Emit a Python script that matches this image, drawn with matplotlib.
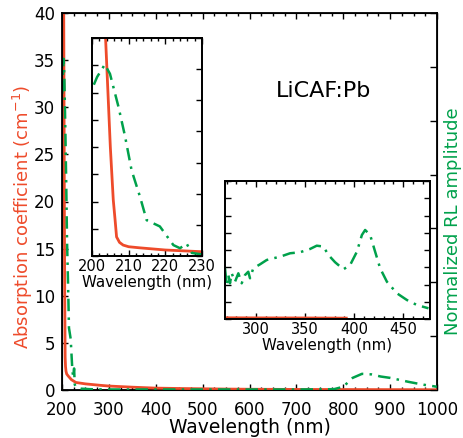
import matplotlib
matplotlib.use("Agg")
import matplotlib.pyplot as plt
from matplotlib.ticker import MultipleLocator, NullFormatter

plt.rcParams['font.family'] = ['DejaVu Sans']

RED = '#EE4B2B'
GREEN = '#00A14B'

# Absorption coefficient (cm^-1) vs wavelength (nm)
abs_wl = [200, 203.0, 203.7, 205.0, 205.8, 206.3, 206.7, 207.5, 208.5, 210, 213, 220, 229.5,
          250, 281, 300, 350, 400, 450, 500, 551, 600, 700, 800, 900, 1000]
abs_val = [48, 45, 40, 20, 10.3, 6.6, 3.5, 2.5, 2.0, 1.7, 1.5, 1.1, 0.8,
           0.65, 0.5, 0.42, 0.3, 0.2, 0.16, 0.13, 0.1, 0.08, 0.06, 0.05, 0.04, 0.03]

# Normalized RL amplitude vs wavelength (main and inset 1)
rl_wl = [200.5, 201.4, 203.5, 204.9, 207.2, 209, 210.8, 213.1, 214.9, 218.5, 222.2, 224, 225.8,
         227.2, 230, 240, 260, 300, 400, 500, 600, 700, 780, 800, 820, 840, 860, 880, 900,
         940, 970, 1000]
rl_val = [1.10, 1.15, 1.23, 1.17, 0.96, 0.77, 0.55, 0.38, 0.23, 0.19, 0.07, 0.05, 0.08,
          0.02, 0.01, 0.005, 0.003, 0.002, 0.002, 0.002, 0.002, 0.002, 0.003, 0.012, 0.045,
          0.06, 0.058, 0.05, 0.045, 0.03, 0.02, 0.012]

# Inset 2: RL spectrum
rl2_wl = [268.4, 270.1, 271.8, 273.5, 275.2, 278.6, 282, 285.4, 288.8, 292.1, 293.9, 297.2,
          304.1, 310.9, 317.7, 324.5, 334.7, 344.9, 355.1, 361.9, 368.7, 373.8, 380.6, 389.1,
          395.9, 402.8, 407.9, 411.2, 416.3, 421.4, 426.5, 433.4, 443.6, 453.8, 464, 475.8]
rl2_val = [0.0294, 0.0197, 0.0255, 0.0207, 0.0265, 0.0216, 0.0265, 0.0207, 0.0255, 0.0274,
           0.0236, 0.0294, 0.0317, 0.0342, 0.0352, 0.0361, 0.0381, 0.0387, 0.0406, 0.0425,
           0.0420, 0.0371, 0.0329, 0.0288, 0.0313, 0.0390, 0.0487, 0.0516, 0.0487, 0.0390,
           0.0294, 0.0216, 0.0149, 0.0110, 0.0081, 0.0062]
abs2_wl = [268, 300, 350, 392]
abs2_val = [0.35, 0.32, 0.3, 0.25]

main_xticks = [200, 300, 400, 500, 600, 700, 800, 900, 1000]
main_yticks = [0, 5, 10, 15, 20, 25, 30, 35, 40]
in1_xticks = [200, 210, 220, 230]
in2_xticks = [300, 350, 400, 450]

W, H = 463, 438
fig = plt.figure(figsize=(W / 100, H / 100), dpi=100)

def rect(l, t, r, b):
    return [l / W, 1 - b / H, (r - l) / W, (b - t) / H]

dash = (0, (5, 2.5, 1, 2.5))

def style(ax, size, major=4, minor=2.2):
    ax.tick_params(which='both', direction='in', top=True, width=1.0, labelsize=size, pad=2)
    ax.tick_params(which='major', length=major)
    ax.tick_params(which='minor', length=minor)
    for s in ax.spines.values():
        s.set_linewidth(1.3)

# ---- main axes
ax = fig.add_axes(rect(62, 13, 437, 390))
ax.plot(abs_wl, abs_val, color=RED, lw=2.0, zorder=3)
ax.set_xlim(200, 1000)
ax.set_ylim(0, 40)
ax.set_xticks(main_xticks)
ax.set_yticks(main_yticks)
ax.xaxis.set_minor_locator(MultipleLocator(25))
style(ax, 12)
ax.tick_params(axis='y', right=False, pad=5)
ax.tick_params(axis='x', which='both', pad=8)
ax.set_xlabel('Wavelength (nm)', fontsize=13.5, labelpad=-1)

axr = ax.twinx()
axr.plot(rl_wl, rl_val, color=GREEN, lw=1.8, ls=dash)
axr.set_ylim(0, 1.4)
axr.yaxis.set_major_locator(MultipleLocator(0.2))
axr.yaxis.set_major_formatter(NullFormatter())
axr.tick_params(axis='y', direction='in', length=5, width=1.0)

fig.text(23 / W, 1 - 217 / H, 'Absorption coefficient (cm$^{-1}$)', fontsize=13,
         color=RED, rotation=90, ha='center', va='center')
fig.text(453 / W, 1 - 221 / H, 'Normalized RL amplitude', fontsize=13,
         color=GREEN, rotation=90, ha='center', va='center')
fig.text(324 / W, 1 - 91 / H, 'LiCAF:Pb', fontsize=16, ha='center', va='center')

# ---- inset 1
a1 = fig.add_axes(rect(92, 38, 202, 256))
a1.set_facecolor('white')
a1.plot(abs_wl, abs_val, color=RED, lw=2.0)
a1.set_xlim(200, 230)
a1.set_ylim(0, 40)
a1.set_xticks(in1_xticks)
a1.xaxis.set_minor_locator(MultipleLocator(2))
a1.yaxis.set_major_locator(MultipleLocator(5))
a1.yaxis.set_major_formatter(NullFormatter())
style(a1, 10.5)
a1.tick_params(axis='y', right=False)
a1.set_xlabel('Wavelength (nm)', fontsize=10.8, labelpad=1)
a1r = a1.twinx()
a1r.plot(rl_wl, rl_val, color=GREEN, lw=1.8, ls=dash)
a1r.set_ylim(0, 1.4)
a1r.yaxis.set_major_locator(MultipleLocator(0.2))
a1r.yaxis.set_major_formatter(NullFormatter())
a1r.tick_params(axis='y', direction='in', length=4, width=1.0)
for s in a1r.spines.values():
    s.set_linewidth(1.3)

# ---- inset 2
a2 = fig.add_axes(rect(225, 181, 429.5, 319))
a2.set_facecolor('white')
a2.plot(abs2_wl, abs2_val, color=RED, lw=2.0)
a2.set_xlim(268.4, 476.8)
a2.set_ylim(0, 40)
a2.set_xticks(in2_xticks)
a2.xaxis.set_minor_locator(MultipleLocator(10))
a2.yaxis.set_major_locator(MultipleLocator(5))
a2.yaxis.set_major_formatter(NullFormatter())
style(a2, 10.5)
a2.tick_params(axis='y', right=False)
a2.set_xlabel('Wavelength (nm)', fontsize=10.8, labelpad=1)
a2r = a2.twinx()
a2r.plot(rl2_wl, rl2_val, color=GREEN, lw=1.8, ls=dash)
a2r.set_ylim(0, 0.08)
a2r.yaxis.set_major_locator(MultipleLocator(0.01))
a2r.yaxis.set_major_formatter(NullFormatter())
a2r.tick_params(axis='y', direction='in', length=4, width=1.0)
for s in a2r.spines.values():
    s.set_linewidth(1.3)

fig.savefig('out.png', dpi=100)
